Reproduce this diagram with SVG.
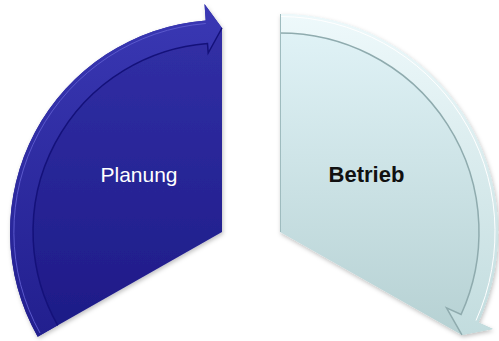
<svg xmlns="http://www.w3.org/2000/svg" width="499" height="341" viewBox="0 0 499 341">
  <defs>
    <linearGradient id="gBlueBody" x1="0" y1="0" x2="0" y2="1">
      <stop offset="0" stop-color="#3331a8"/>
      <stop offset="1" stop-color="#1d1a86"/>
    </linearGradient>
    <linearGradient id="gBlueBand" x1="0" y1="0" x2="0" y2="1">
      <stop offset="0" stop-color="#3a38b4"/>
      <stop offset="1" stop-color="#221f8e"/>
    </linearGradient>
    <linearGradient id="gCyanBody" x1="0" y1="0" x2="0" y2="1">
      <stop offset="0" stop-color="#e2f4f8"/>
      <stop offset="1" stop-color="#b6d1d3"/>
    </linearGradient>
    <linearGradient id="gCyanBand" x1="0" y1="0" x2="0" y2="1">
      <stop offset="0" stop-color="#eef9fb"/>
      <stop offset="1" stop-color="#c2dcde"/>
    </linearGradient>
    <filter id="shadow" x="-10%" y="-10%" width="130%" height="130%">
      <feDropShadow dx="1" dy="2" stdDeviation="2" flood-color="#000" flood-opacity="0.25"/>
    </filter>
  </defs>
  <style>
    .lbl { font-family: "Liberation Sans", Arial, sans-serif; text-anchor: middle; }
    .edgeBlue { fill: none; stroke: #14117a; stroke-width: 1.5; }
    .hiBlue { fill: none; stroke: #5a58cc; stroke-width: 1; }
    .edgeCyan { fill: none; stroke: #8fabae; stroke-width: 1.5; }
    .hiCyan { fill: none; stroke: #ffffff; stroke-width: 1; }
  </style>
  <rect width="499" height="341" fill="#ffffff"/>

  <g id="planung">
    <path d="M222,232 L37.7,336.7 A212,212 0 0 1 205.7,20.6 L204.5,4.1 L222,28 Z" fill="url(#gBlueBody)" filter="url(#shadow)"/>
    <path d="M37.7,336.7 A212,212 0 0 1 205.7,20.6 L204.5,4.1 L222,28 L208.2,53 L207.5,43.5 A189,189 0 0 0 57.7,325.3 Z" fill="url(#gBlueBand)"/>
    <path class="edgeBlue" d="M57.7,325.3 A189,189 0 0 1 207.5,43.5 L208.2,53 L222,28"/>
    <path class="hiBlue" d="M40,333 A209,209 0 0 1 205.8,23.5"/>
    <text class="lbl" x="139" y="182" font-size="21" fill="#ffffff">Planung</text>
  </g>

  <g id="betrieb">
    <path d="M280,232 L280,14 A218,218 0 0 1 478.4,322.4 L492.9,329 L461.9,334.9 Z" fill="url(#gCyanBody)" filter="url(#shadow)"/>
    <path d="M280,14 A218,218 0 0 1 478.4,322.4 L492.9,329 L461.9,334.9 L446.5,307.9 L461.1,314.5 A199,199 0 0 0 280,33 Z" fill="url(#gCyanBand)"/>
    <path class="edgeCyan" d="M280,33 A199,199 0 0 1 461.1,314.5 L446.5,307.9 L461.9,334.9"/>
    <path class="hiCyan" d="M281,16.5 A215.5,215.5 0 0 1 476,320.5"/>
    <line x1="280.5" y1="14" x2="280.5" y2="232" stroke="#9fbcbf" stroke-width="1"/>
    <text class="lbl" x="366.5" y="182" font-size="22" font-weight="bold" fill="#111111">Betrieb</text>
  </g>
</svg>
